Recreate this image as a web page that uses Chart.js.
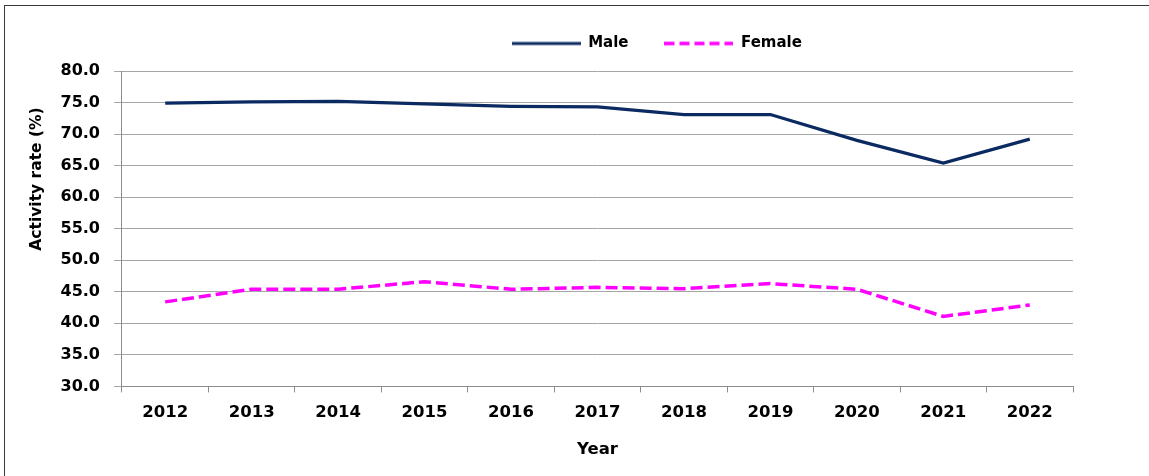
<!DOCTYPE html>
<html lang="en">
<head>
    <meta charset="utf-8" />
    <title>Activity rate by sex</title>
    <script src="https://cdn.jsdelivr.net/npm/chart.js"></script>
    <style>
        html, body {
            margin: 0;
            padding: 0;
            background: #fff;
        }

        .chart-frame {
            position: absolute;
            left: 4px;
            top: 5px;
            width: 1160px;
            height: 490px;
            border: 1px solid #3a3a3a;
        }

        .chart-box {
            position: absolute;
            left: 0;
            top: 0;
            width: 1149px;
            height: 476px;
        }
    </style>
</head>
<body>
    <div class="chart-frame"></div>
    <div class="chart-box">
        <canvas id="activityChart"></canvas>
    </div>

    <script>
        // Data
        const years = ['2012', '2013', '2014', '2015', '2016', '2017', '2018', '2019', '2020', '2021', '2022'];
        const maleRate = [74.9, 75.1, 75.2, 74.8, 74.4, 74.3, 73.1, 73.1, 69.0, 65.4, 69.2];
        const femaleRate = [43.4, 45.4, 45.4, 46.6, 45.4, 45.7, 45.5, 46.3, 45.4, 41.1, 42.9];

        const FONT = 'DejaVu Sans';
        const MALE_COLOR = '#0b2a62';
        const FEMALE_COLOR = '#ff00ff';
        const LEGEND_SHIFT = 97;

        // legend swatches: small canvases so the dash shows in the legend too
        function makeSwatch(color, width, dash) {
            const c = document.createElement('canvas');
            c.width = 69;
            c.height = 6;
            const g = c.getContext('2d');
            g.strokeStyle = color;
            g.lineWidth = width;
            g.setLineDash(dash);
            g.beginPath();
            g.moveTo(0, 3);
            g.lineTo(69, 3);
            g.stroke();
            return c;
        }

        // legend sits right of centre and a bit away from the plot in the original
        const legendTweak = {
            id: 'legendTweak',
            beforeInit(chart) {
                const origFit = chart.legend.fit;
                chart.legend.fit = function () {
                    origFit.call(this);
                    this.height += 10;
                };
            },
            beforeDraw(chart) {
                chart.legend.left += LEGEND_SHIFT;
                chart.legend.right += LEGEND_SHIFT;
            },
            afterDraw(chart) {
                chart.legend.left -= LEGEND_SHIFT;
                chart.legend.right -= LEGEND_SHIFT;
            }
        };

        // y axis title sits above the plot centre in the original, so draw it ourselves
        const yTitlePlugin = {
            id: 'yTitle',
            afterDraw(chart) {
                const ctx = chart.ctx;
                const area = chart.chartArea;
                ctx.save();
                ctx.translate(37, area.top + 108);
                ctx.rotate(-Math.PI / 2);
                ctx.font = 'bold 15.5px ' + FONT;
                ctx.fillStyle = '#000';
                ctx.textAlign = 'center';
                ctx.textBaseline = 'middle';
                ctx.fillText('Activity rate (%)', 0, 0);
                ctx.restore();
            }
        };

        const ctx = document.getElementById('activityChart').getContext('2d');
        const activityChart = new Chart(ctx, {
            type: 'line',
            data: {
                labels: years,
                datasets: [{
                    label: 'Male',
                    data: maleRate,
                    borderColor: MALE_COLOR,
                    backgroundColor: MALE_COLOR,
                    borderWidth: 3.2,
                    pointRadius: 0,
                    pointStyle: makeSwatch(MALE_COLOR, 3.2, []),
                    tension: 0
                }, {
                    label: 'Female',
                    data: femaleRate,
                    borderColor: FEMALE_COLOR,
                    backgroundColor: FEMALE_COLOR,
                    borderWidth: 3.5,
                    borderDash: [12, 5],
                    pointRadius: 0,
                    pointStyle: makeSwatch(FEMALE_COLOR, 3.5, [10, 5]),
                    tension: 0
                }]
            },
            options: {
                responsive: true,
                maintainAspectRatio: false,
                animation: false,
                layout: {
                    padding: { left: 46.5, right: 76, top: 0, bottom: 16 }
                },
                plugins: {
                    legend: {
                        position: 'top',
                        labels: {
                            usePointStyle: true,
                            pointStyleWidth: 69,
                            color: '#000',
                            padding: 36,
                            font: { family: FONT, size: 15, weight: 'bold' }
                        }
                    },
                    tooltip: { enabled: false }
                },
                scales: {
                    x: {
                        offset: true,
                        grid: {
                            offset: true,
                            drawOnChartArea: false,
                            drawTicks: true,
                            tickLength: 6,
                            color: '#8c8c8c'
                        },
                        border: { color: '#8c8c8c' },
                        ticks: {
                            color: '#000',
                            padding: 10,
                            font: { family: FONT, size: 16.5, weight: 'bold' }
                        },
                        title: {
                            display: true,
                            text: 'Year',
                            color: '#000',
                            padding: { top: 8, bottom: 0 },
                            font: { family: FONT, size: 16.5, weight: 'bold' }
                        }
                    },
                    y: {
                        min: 30,
                        max: 80,
                        grid: {
                            color: '#a6a6a6',
                            tickLength: 8
                        },
                        border: { color: '#8c8c8c' },
                        ticks: {
                            stepSize: 5,
                            color: '#000',
                            padding: 14,
                            font: { family: FONT, size: 16, weight: 'bold' },
                            callback: v => v.toFixed(1)
                        }
                    }
                }
            },
            plugins: [legendTweak, yTitlePlugin]
        });
    </script>
</body>
</html>
